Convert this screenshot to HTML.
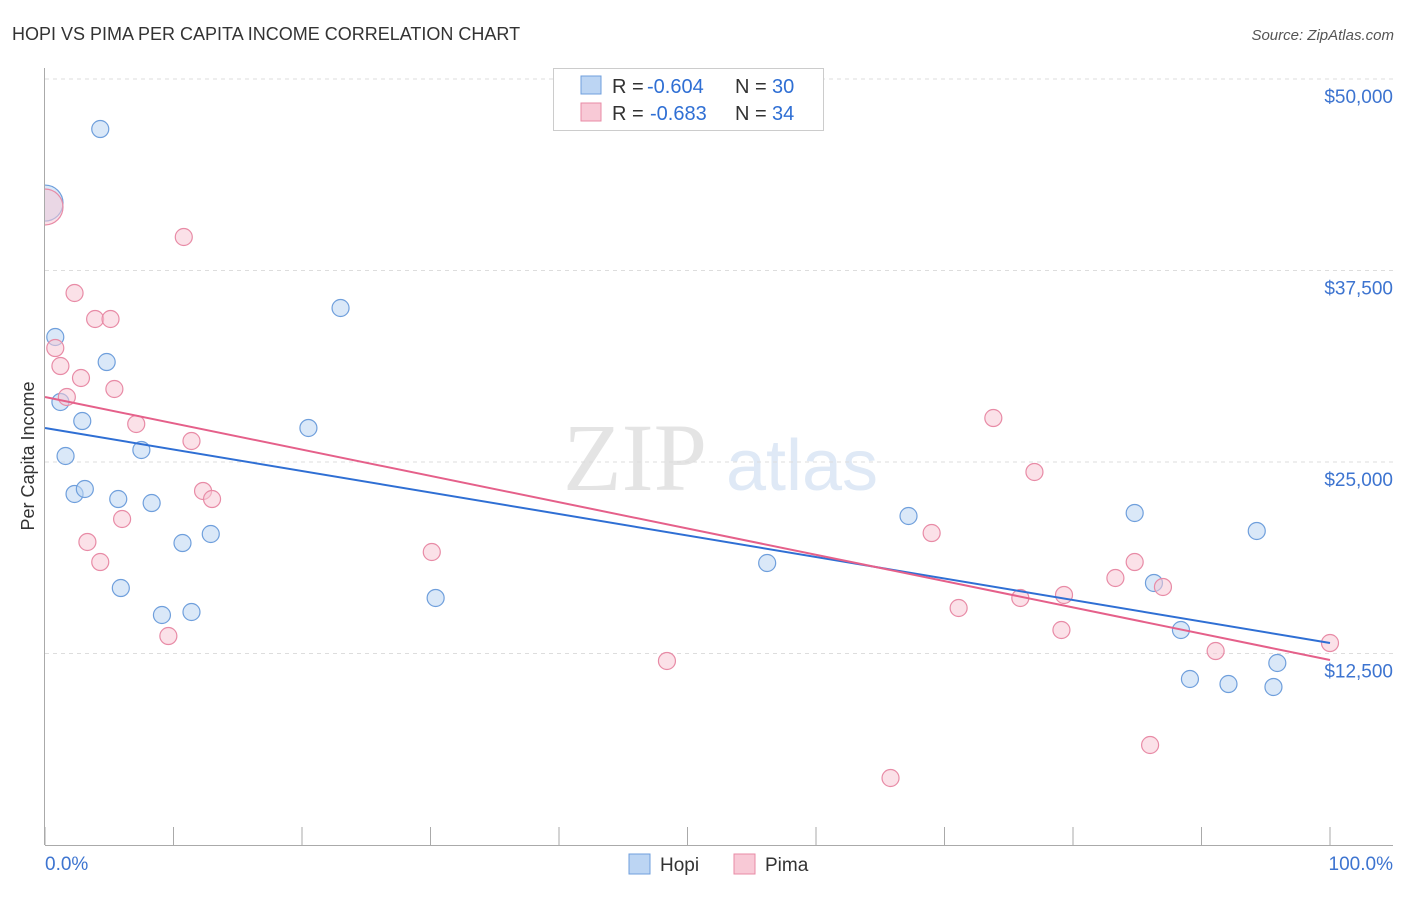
<!DOCTYPE html>
<html><head><meta charset="utf-8"><style>
body{margin:0;background:#fff;font-family:"Liberation Sans",sans-serif;}
svg text{font-family:"Liberation Sans",sans-serif;}
</style></head><body>
<svg id="chart" width="1406" height="892">
<text x="12" y="40" font-size="18" fill="#333">HOPI VS PIMA PER CAPITA INCOME CORRELATION CHART</text>
<text x="1394" y="40" font-size="15" fill="#555" font-style="italic" text-anchor="end">Source: ZipAtlas.com</text>
<g>
<text x="635" y="490" font-size="96" fill="#e4e4e4" text-anchor="middle" font-family="Liberation Serif" style="font-family:'Liberation Serif',serif">ZIP</text>
<text x="802" y="490" font-size="72" fill="#dfe9f6" text-anchor="middle">atlas</text>
</g>
<g id="grid"></g>
<g id="axes"></g>
<text transform="translate(34,456) rotate(-90)" font-size="18" fill="#333" text-anchor="middle">Per Capita Income</text>
<g id="marks"></g>
<g>
<rect x="553.5" y="68.5" width="270" height="62" fill="#fff" stroke="#ccc"/>
<rect x="581" y="76" width="20" height="18" fill="#bcd5f3" stroke="#6f9fdc"/>
<text x="612" y="93" font-size="20" fill="#333">R =</text>
<text x="647" y="93" font-size="20" fill="#2f6fd4">-0.604</text>
<text x="735" y="93" font-size="20" fill="#333">N =</text>
<text x="772" y="93" font-size="20" fill="#2f6fd4">30</text>
<rect x="581" y="103" width="20" height="18" fill="#f8c9d6" stroke="#e88ba6"/>
<text x="612" y="120" font-size="20" fill="#333">R =</text>
<text x="650" y="120" font-size="20" fill="#2f6fd4">-0.683</text>
<text x="735" y="120" font-size="20" fill="#333">N =</text>
<text x="772" y="120" font-size="20" fill="#2f6fd4">34</text>
</g>
<g>
<rect x="629" y="854" width="21" height="20" fill="#bcd5f3" stroke="#6f9fdc"/>
<text x="660" y="871" font-size="19" fill="#333">Hopi</text>
<rect x="734" y="854" width="21" height="20" fill="#f8c9d6" stroke="#e88ba6"/>
<text x="765" y="871" font-size="19" fill="#333">Pima</text>
</g>
</svg>
<script>
const yTicks=[12500,25000,37500,50000];
const yTickLabels=["$12,500","$25,000","$37,500","$50,000"];
const xTicks=[0,10,20,30,40,50,60,70,80,90,100];
const hopiX=[0,4.3,0.8,4.8,1.2,2.9,1.6,7.5,2.3,3.1,5.7,8.3,20.5,23.0,5.9,10.7,12.9,9.1,11.4,30.4,56.2,67.2,84.8,86.3,88.4,94.3,89.1,92.1,95.6,95.9];
const hopiY=[41900,46733,33157,31525,28915,27674,25390,25782,22910,23236,22583,22322,27218,35050,16774,19711,20299,15012,15208,16122,18406,21474,21670,17101,14033,20495,10835,10508,10313,11879];
const pimaX=[0,10.8,2.3,3.9,5.1,0.8,1.2,2.8,1.7,5.4,7.1,11.4,12.3,13.0,6.0,3.3,4.3,9.6,30.1,48.4,65.8,69.0,71.1,73.8,75.9,77.0,79.3,79.1,83.3,84.8,87.0,91.1,86.0,100];
const pimaY=[41642,39684,36029,34332,34332,32439,31264,30481,29241,29763,27479,26369,23106,22583,21278,19777,18471,13641,19124,12010,4373,20364,15469,27870,16122,24346,16318,14033,17427,18471,16840,12662,6527,13184];
const hopiTrend=[27218,13185];
const pimaTrend=[29241,12075];
const NS="http://www.w3.org/2000/svg";
const X=p=>45+p*12.85;
const Y=v=>845-v/65.27;
function mk(tag,attrs,parent){const e=document.createElementNS(NS,tag);for(const k in attrs)e.setAttribute(k,attrs[k]);document.getElementById(parent).appendChild(e);return e;}
yTicks.forEach((t,i)=>{
 const g=mk('line',{x1:45,x2:1393,y1:Y(t),y2:Y(t),stroke:'#ddd','stroke-dasharray':'4,4'},'grid');
 
 
 const l=mk('text',{x:1393,y:Y(t)+24,'font-size':19,fill:'#3d74d0','text-anchor':'end'},'axes');
 l.textContent=yTickLabels[i];
 
 
});
const ya=mk('line',{x1:44.5,x2:44.5,y1:68,y2:845,stroke:'#aaa'},'axes');


const xa=mk('line',{x1:45,x2:1393,y1:845.5,y2:845.5,stroke:'#aaa'},'axes');


xTicks.forEach(t=>{
 const k=mk('line',{x1:X(t),x2:X(t),y1:827,y2:845,stroke:'#aaa'},'axes');
 
 
});
const x0=mk('text',{x:45,y:870,'font-size':19,fill:'#3d74d0'},'axes');x0.textContent='0.0%';


const x1=mk('text',{x:1393,y:870,'font-size':19,fill:'#3d74d0','text-anchor':'end'},'axes');x1.textContent='100.0%';


function dots(xs,ys,fill,stroke,name){
 xs.forEach((x,i)=>{
  const r=(i===0&&x===0)?18:8.5;
  const c=mk('circle',{cx:X(x),cy:Y(ys[i]),r:r,fill:fill,'fill-opacity':0.55,stroke:stroke,'stroke-width':1.2},'marks');
  
  
 });
}
dots(hopiX,hopiY,'#bcd5f3','#6f9fdc','hopi-point');
dots(pimaX,pimaY,'#f8c9d6','#e88ba6','pima-point');
const tb=mk('line',{x1:X(0),y1:Y(hopiTrend[0]),x2:X(100),y2:Y(hopiTrend[1]),stroke:'#2f6fd4','stroke-width':2},'marks');


const tp=mk('line',{x1:X(0),y1:Y(pimaTrend[0]),x2:X(100),y2:Y(pimaTrend[1]),stroke:'#e5608a','stroke-width':2},'marks');


const clip=mk('rect',{x:0,y:60,width:44,height:300,fill:'#fff'},'marks');


const ya2=mk('line',{x1:44.5,x2:44.5,y1:68,y2:845,stroke:'#aaa'},'marks');


</script>
</body></html>
